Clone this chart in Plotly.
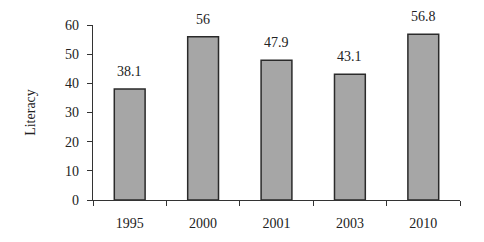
import plotly.graph_objects as go

years = ["1995", "2000", "2001", "2003", "2010"]
literacy = [38.1, 56, 47.9, 43.1, 56.8]
y_ticks = [0, 10, 20, 30, 40, 50, 60]

font = dict(family="Liberation Serif, Times New Roman, serif", size=14, color="#222222")

pos = list(range(len(years)))
bounds = [i - 0.5 for i in range(len(years) + 1)]

fig = go.Figure()
fig.add_trace(go.Bar(
    x=pos, y=literacy,
    marker=dict(color="#a6a6a6", line=dict(color="#2a2a2a", width=1.5)),
    width=0.42,
    text=[f"{v:g}" for v in literacy],
    textposition="none",
))
for x, v in zip(pos, literacy):
    fig.add_annotation(x=x, y=v, text=f"{v:g}", showarrow=False,
                       yanchor="bottom", yshift=8, font=font)

fig.update_layout(
    width=484, height=242,
    margin=dict(l=93, r=24, t=25, b=42),
    paper_bgcolor="white", plot_bgcolor="white",
    font=font, showlegend=False,
)
fig.update_xaxes(
    range=[-0.5, len(years) - 0.5], tickvals=pos, ticktext=years,
    showline=True, linecolor="#333333", linewidth=1.2,
    ticks="", showgrid=False, zeroline=False, ticklabelstandoff=10,
    minor=dict(tickvals=bounds, ticks="outside", ticklen=5, tickcolor="#333333", showgrid=False),
)
fig.update_yaxes(
    range=[0, 60], tickvals=y_ticks, showline=True, linecolor="#333333",
    linewidth=1.2, ticks="outside", ticklen=5, tickcolor="#333333",
    showgrid=False, zeroline=False, ticklabelstandoff=5,
    title=dict(text="Literacy", font=font, standoff=26),
)
fig.write_html("out.html")
